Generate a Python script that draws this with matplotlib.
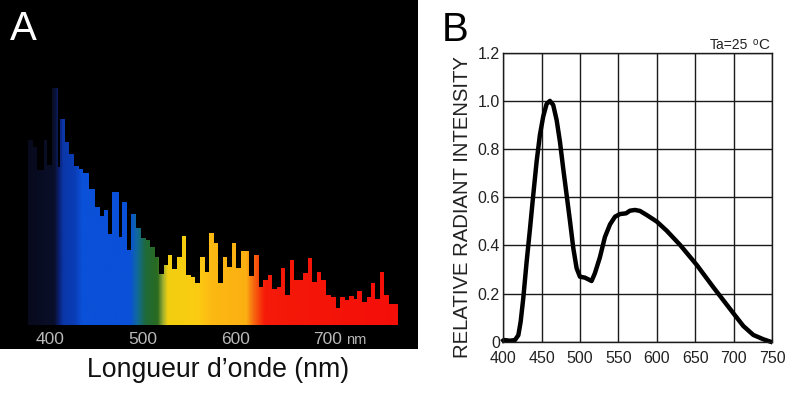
import numpy as np
import matplotlib
matplotlib.use('Agg')
import matplotlib.pyplot as plt
from matplotlib.colors import LinearSegmentedColormap

plt.rcParams['font.family'] = ['Liberation Sans', 'DejaVu Sans']

# panel A : spectrum, bar edges in nm and bar heights (arbitrary units)
spec_edges = [375.7, 380.7, 385.8, 393.0, 396.6, 401.3, 408.5, 410.6, 416.0, 420.4, 425.4, 430.5, 435.5,
              441.6, 448.1, 453.9, 457.5, 462.5, 466.5, 473.7, 477.3, 483.1, 487.0, 492.1, 497.8, 502.9,
              507.6, 512.9, 517.3, 522.3, 526.7, 531.7, 536.4, 541.8, 546.1, 551.5, 556.6, 561.6,
              566.6, 571.0, 576.4, 581.4, 586.8, 591.2, 595.8, 600.5, 605.6, 614.6, 620.3, 625.4, 630.1,
              635.1, 639.8, 644.8, 649.2, 653.5, 658.5, 663.6, 673.3, 678.4, 682.7, 687.7, 692.8, 697.8,
              702.9, 708.3, 713.0, 718.0, 723.0, 728.1, 731.7, 736.4, 742.5, 746.8, 751.2, 756.2, 760.9,
              765.6, 776.0]
spec_heights = [185, 178, 155, 185, 160, 237, 158, 206, 183, 171, 159, 156, 152, 136, 118, 109, 115, 91,
                133, 88, 123, 75, 111, 97, 87, 85, 78, 68, 51, 60, 70, 56, 68, 89, 50, 48, 42,
                68, 53, 92, 82, 42, 68, 58, 82, 57, 74, 49, 70, 38, 45, 50, 36, 38, 57, 30, 65, 45,
                52, 67, 43, 53, 45, 30, 28, 17, 28, 25, 29, 26, 34, 23, 28, 42, 26, 53, 30, 21]
spec_ticks = [400, 500, 600, 700]

# colour of the spectrum along the wavelength
color_nm = [375, 404, 410, 414, 426, 434, 486, 494, 503, 516, 522, 527, 560, 575, 612, 620, 632, 776]
color_hex = ['#080a1c', '#0a0f2a', '#0a2480', '#0a38aa', '#0b3cb4', '#0a50d8', '#0a50d8', '#106a9a',
             '#1f6a38', '#2a6a20', '#a0b030', '#f2cf10', '#fbcb12', '#fdb813', '#fbb012', '#f86a10',
             '#f51a08', '#f40e08']

# panel B : relative radiant intensity
wave = [400, 400.9, 408.7, 415.2, 419.6, 422.6, 426, 430.4, 434.8, 439, 443.4, 447.7, 452, 456.4, 460.7,
        465, 469.5, 473.8, 478, 482.5, 486.9, 491.2, 495.5, 499.8, 506.3, 515, 519.3, 525.8, 532.4, 539,
        545.5, 552, 559.9, 565, 571.6, 578, 586.8, 599.8, 612.8, 630.2, 651.9, 673.6, 699.7, 712.7, 725.7,
        738.8, 748]
intensity = [0.005, 0.007, 0.004, 0.007, 0.027, 0.083, 0.18, 0.332, 0.47, 0.609, 0.748, 0.859, 0.935,
             0.987, 1.0, 0.983, 0.92, 0.83, 0.72, 0.609, 0.5, 0.388, 0.305, 0.27, 0.266, 0.252, 0.284,
             0.35, 0.435, 0.487, 0.519, 0.53, 0.533, 0.544, 0.547, 0.543, 0.526, 0.499, 0.461, 0.402,
             0.319, 0.226, 0.118, 0.065, 0.028, 0.01, 0]
x_ticks = [400, 450, 500, 550, 600, 650, 700, 750]
y_ticks = [0, 0.2, 0.4, 0.6, 0.8, 1.0, 1.2]
y_labels = ['0', '0.2', '0.4', '0.6', '0.8', '1.0', '1.2']

W, H = 800, 393
fig = plt.figure(figsize=(W / 100, H / 100), dpi=100, facecolor='white')

def px_axes(x0, y0, x1, y1):
    return fig.add_axes([x0 / W, 1 - y1 / H, (x1 - x0) / W, (y1 - y0) / H])

# panel A
ax = px_axes(0, 0, 418, 349)
ax.set_facecolor('black')
cmap = LinearSegmentedColormap.from_list(
    'spec', [((n - 375) / (776 - 375), c) for n, c in zip(color_nm, color_hex)])
im = ax.imshow(np.linspace(0, 1, 512).reshape(1, -1), extent=(375, 776, 0, 325), aspect='auto',
               cmap=cmap, vmin=0, vmax=1, interpolation='bilinear')
ax.set_xlim(345.4, 797.3)
ax.set_ylim(-24, 325)
poly = ax.fill_between(spec_edges, spec_heights + [spec_heights[-1]], step='post',
                       facecolor='none', edgecolor='none')
im.set_clip_path(poly.get_paths()[0], transform=ax.transData)
ax.set_xticks([])
ax.set_yticks([])
for s in ax.spines.values():
    s.set_visible(False)
for t in spec_ticks:
    ax.text(t, -14.5, str(t), color='#b8b8b8', fontsize=12.5, ha='center', va='center')
ax.text(731, -15.5, 'nm', color='#b8b8b8', fontsize=10.5, ha='center', va='center')

fig.text(10 / W, 1 - 40 / H, 'A', color='white', fontsize=29, ha='left', va='baseline')
fig.text(218.5 / W, 1 - 377 / H, 'Longueur d\u2019onde (nm)', color='#111111', fontsize=19.2,
         ha='center', va='baseline')

# panel B
bx = px_axes(503.3, 52.7, 772, 341.7)
bx.set_xlim(400, 750)
bx.set_ylim(0, 1.2)
bx.set_xticks(x_ticks)
bx.set_yticks(y_ticks)
bx.set_yticklabels(y_labels)
bx.grid(True, color='#1a1a1a', linewidth=1.0)
bx.set_axisbelow(True)
bx.tick_params(length=0, labelsize=11.5, labelcolor='#222222')
bx.tick_params(axis='x', pad=6.5)
bx.tick_params(axis='y', pad=2.5)
for s in bx.spines.values():
    s.set_linewidth(1.0)
    s.set_color('#1a1a1a')
bx.plot(wave, intensity, color='black', linewidth=3.2, solid_joinstyle='round', clip_on=False)

fig.text(442 / W, 1 - 41 / H, 'B', color='black', fontsize=29, ha='left', va='baseline')
fig.text(463 / W, 1 - 207 / H, 'RELATIVE RADIANT INTENSITY', color='#222222', fontsize=14.6, rotation=90,
         ha='center', va='center')
fig.text(710 / W, 1 - 49 / H, 'Ta=25', color='#222222', fontsize=10, ha='left', va='baseline')
fig.text(753 / W, 1 - 47 / H, 'o', color='#222222', fontsize=7, ha='left', va='bottom')
fig.text(758 / W, 1 - 49 / H, 'C', color='#222222', fontsize=11, ha='left', va='baseline')

fig.savefig('out.png', dpi=100)
